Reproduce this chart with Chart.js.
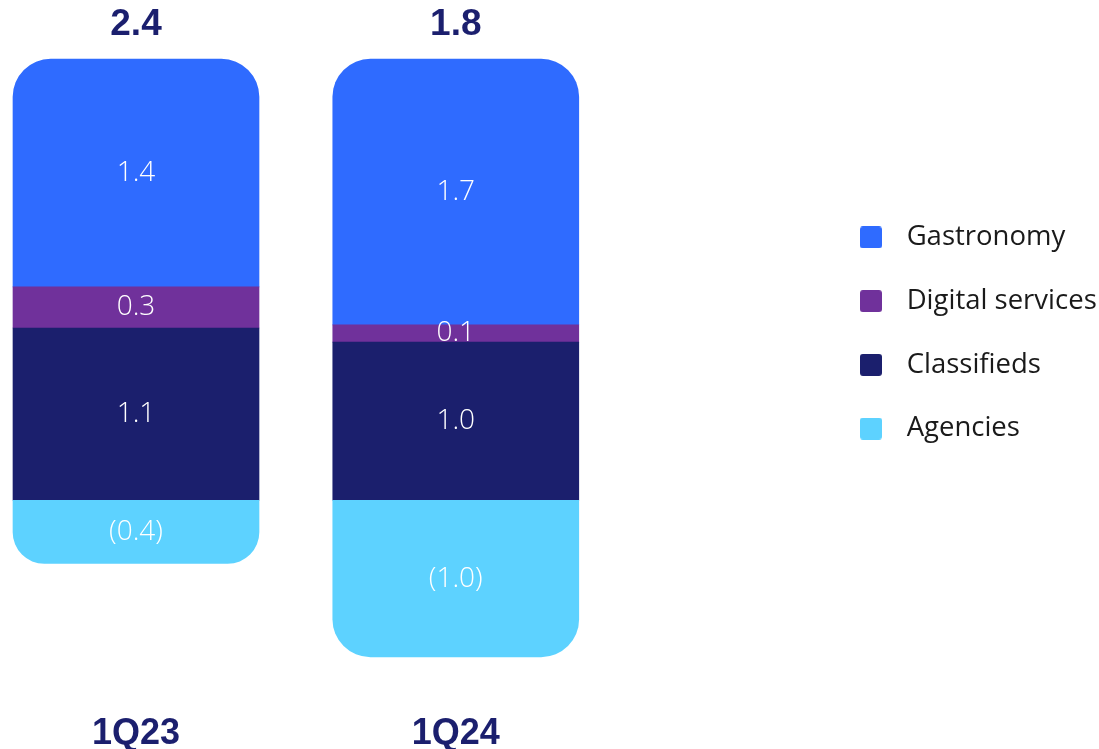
<!DOCTYPE html>
<html>
<head>
<meta charset="utf-8">
<script src="https://cdn.jsdelivr.net/npm/chart.js@4.4.0/dist/chart.umd.min.js"></script>
<style>
  html, body { margin: 0; padding: 0; background: #ffffff; }
  canvas { display: block; }
</style>
</head>
<body>
<canvas id="chart" width="1099" height="749"></canvas>
<script>
// ---- data ----
const categories = ['1Q23', '1Q24'];
const seriesNames = ['Agencies', 'Classifieds', 'Digital services', 'Gastronomy'];
const agencies = [-0.40, -0.99];
const classifieds = [1.09, 1.00];
const digitalServices = [0.26, 0.11];
const gastronomy = [1.44, 1.68];

// ---- styles ----
const NAVY = '#1b1f6e';
const seriesColors = ['#5dd2ff', '#1b1f6d', '#70319b', '#2f6bff'];

function swatch(color) {
  const c = document.createElement('canvas');
  c.width = 22; c.height = 22;
  const g = c.getContext('2d');
  g.fillStyle = color;
  g.beginPath();
  if (g.roundRect) g.roundRect(0, 0, 22, 22, 3); else g.rect(0, 0, 22, 22);
  g.fill();
  return c;
}

const seriesValues = [agencies, classifieds, digitalServices, gastronomy];

const datasets = seriesNames.map((name, i) => ({
  label: name,
  data: seriesValues[i],
  backgroundColor: seriesColors[i],
  borderWidth: 0,
  borderRadius: 38,
  barThickness: 246,
  clip: false,
  pointStyle: swatch(seriesColors[i]),
  yAxisID: 'y'
}));

const valueLabels = {
  id: 'valueLabels',
  afterDatasetsDraw(chart) {
    const ctx = chart.ctx;
    ctx.save();
    ctx.textAlign = 'center';
    ctx.textBaseline = 'middle';
    ctx.fillStyle = '#ffffff';
    ctx.font = '300 28px "Open Sans"';
    chart.data.datasets.forEach((ds, di) => {
      const meta = chart.getDatasetMeta(di);
      meta.data.forEach((el, i) => {
        const v = ds.data[i];
        const txt = v < 0 ? '(' + Math.abs(v).toFixed(1) + ')' : v.toFixed(1);
        ctx.fillText(txt, el.x, (el.y + el.base) / 2);
      });
    });
    ctx.fillStyle = NAVY;
    ctx.font = 'bold 37px "Liberation Sans"';
    categories.forEach((c, i) => {
      let total = 0, top = Infinity, x = 0;
      chart.data.datasets.forEach((ds, di) => {
        total += ds.data[i];
        const el = chart.getDatasetMeta(di).data[i];
        top = Math.min(top, el.y, el.base);
        x = el.x;
      });
      ctx.fillText(total.toFixed(1), x, top - 34);
    });
    ctx.restore();
  }
};

new Chart(document.getElementById('chart'), {
  type: 'bar',
  data: { labels: categories, datasets },
  options: {
    responsive: false,
    animation: false,
    layout: { padding: { left: 136, top: 26, right: -7.75, bottom: -36.8 } },
    scales: {
      x: {
        stacked: true,
        offset: false,
        grid: { display: false },
        border: { display: false },
        ticks: {
          color: NAVY,
          padding: 33.8,
          font: { family: '"Liberation Sans", Arial, sans-serif', size: 36, weight: 'bold', lineHeight: 1 }
        }
      },
      y: {
        stacked: true,
        display: false,
        min: -1.1,
        max: 3.0
      },
      spacer: {
        type: 'linear',
        position: 'right',
        display: true,
        grid: { display: false },
        border: { display: false },
        ticks: { display: false },
        afterFit(s) { s.width = 357; }
      }
    },
    plugins: {
      tooltip: { enabled: false },
      legend: {
        position: 'right',
        align: 'start',
        reverse: true,
        fullSize: true,
        maxWidth: 320,
        title: { display: true, text: '', padding: { top: 151.5, bottom: 0 }, font: { size: 10, lineHeight: 1 } },
        labels: {
          usePointStyle: true,
          pointStyleWidth: 43.9,
          boxHeight: 22,
          padding: 36.2,
          color: '#1a1a1a',
          font: { family: '"Open Sans", sans-serif', size: 27.5 }
        }
      }
    }
  },
  plugins: [valueLabels]
});
</script>
</body>
</html>
